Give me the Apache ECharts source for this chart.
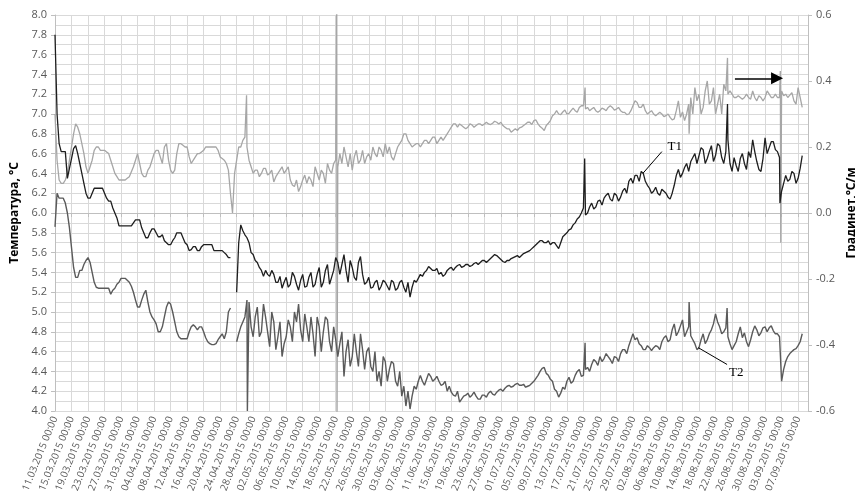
<!DOCTYPE html>
<html>
<head>
<meta charset="utf-8">
<script src="https://cdn.jsdelivr.net/npm/echarts@6/dist/echarts.min.js"></script>
<style>
  html, body { margin: 0; padding: 0; background: #fff; }
  #chart { width: 855px; height: 504px; }
</style>
</head>
<body>
<div id="chart"></div>
<script>
// day 0 = 11.03.2015 00:00; values at 00:00 of each day, mids at 12:00
const startDate = Date.UTC(2015, 2, 11)
const dayStep = 1
const xMax = 182.4

// T1, °C (left axis)
const t1Values = [
  7.8, 6.7, 6.62, 6.35, 6.55, 6.68, 6.5, 6.3, 6.15, 6.2,
  6.25, 6.25, 6.2, 6.12, 6.05, 5.95, 5.87, 5.87, 5.87, 5.9,
  5.93, 5.85, 5.75, 5.8, 5.84, 5.76, 5.78, 5.7, 5.68, 5.75,
  5.8, 5.75, 5.68, 5.63, 5.66, 5.62, 5.68, 5.68, 5.68, 5.62,
  5.62, 5.6, 5.55, null, 5.2, 5.88, 5.78, 5.7, 5.58, 5.5,
  5.42, 5.42, 5.36, 5.38, 5.3, 5.24, 5.35, 5.28, 5.36, 5.22,
  5.38, 5.26, 5.4, 5.28, 5.45, 5.3, 5.48, 5.35, 5.55, 5.38,
  5.58, 5.3, 5.45, 5.32, 5.56, 5.28, 5.35, 5.25, 5.32, 5.26,
  5.3, 5.22, 5.3, 5.24, 5.32, 5.2, 5.15, 5.32, 5.34, 5.36,
  5.42, 5.44, 5.42, 5.38, 5.36, 5.42, 5.45, 5.45, 5.48, 5.46,
  5.48, 5.47, 5.5, 5.5, 5.52, 5.52, 5.56, 5.57, 5.53, 5.5,
  5.52, 5.55, 5.57, 5.57, 5.6, 5.62, 5.66, 5.7, 5.72, 5.7,
  5.68, 5.7, 5.64, 5.76, 5.8, 5.84, 5.9, 5.96, 6.05, 6.0,
  6.1, 6.06, 6.13, 6.15, 6.2, 6.12, 6.18, 6.16, 6.25, 6.32,
  6.3, 6.38, 6.42, 6.32, 6.25, 6.22, 6.2, 6.24, 6.2, 6.14,
  6.28, 6.44, 6.4, 6.5, 6.52, 6.6, 6.58, 6.64, 6.55, 6.68,
  6.58, 6.68, 6.5, 6.74, 6.42, 6.48, 6.55, 6.5, 6.62, 6.74,
  6.52, 6.42, 6.76, 6.66, 6.72, 6.62, 6.22, 6.38, 6.34, 6.4,
  6.35, 6.58
]
const t1Mids = [
  7.0, 6.62, 6.62, 6.45, 6.65, 6.6, 6.4, 6.2, 6.15, 6.25,
  6.25, 6.25, 6.15, 6.12, 6.0, 5.87, 5.87, 5.87, 5.87, 5.93,
  5.93, 5.8, 5.75, 5.84, 5.8, 5.76, 5.72, 5.68, 5.72, 5.8,
  5.8, 5.7, 5.62, 5.66, 5.62, 5.66, 5.68, 5.68, 5.62, 5.62,
  5.62, 5.58, 5.55, null, 5.7, 5.82, 5.75, 5.6, 5.52, 5.45,
  5.36, 5.38, 5.42, 5.3, 5.36, 5.3, 5.25, 5.4, 5.28, 5.32,
  5.25, 5.35, 5.25, 5.38, 5.25, 5.42, 5.28, 5.42, 5.5, 5.48,
  5.42, 5.52, 5.35, 5.5, 5.38, 5.3, 5.24, 5.3, 5.22, 5.32,
  5.26, 5.32, 5.22, 5.3, 5.25, 5.3, 5.25, 5.3, 5.38, 5.4,
  5.46, 5.42, 5.44, 5.4, 5.38, 5.44, 5.42, 5.47, 5.45, 5.48,
  5.46, 5.49, 5.48, 5.52, 5.5, 5.54, 5.58, 5.55, 5.51, 5.52,
  5.54, 5.56, 5.55, 5.59, 5.61, 5.64, 5.68, 5.72, 5.7, 5.72,
  5.7, 5.67, 5.7, 5.78, 5.83, 5.88, 5.94, 6.0, 5.98, 6.06,
  6.04, 6.12, 6.08, 6.18, 6.14, 6.2, 6.12, 6.22, 6.2, 6.35,
  6.38, 6.32, 6.4, 6.28, 6.2, 6.26, 6.18, 6.22, 6.16, 6.2,
  6.38, 6.36, 6.46, 6.42, 6.56, 6.5, 6.66, 6.5, 6.62, 6.52,
  6.7, 6.56, 6.62, 6.5, 6.56, 6.42, 6.6, 6.44, 6.56, 6.62,
  6.44, 6.55, 6.6, 6.72, 6.64, 6.56, 6.3, 6.32, 6.42, 6.3,
  6.45
]
const t1Spikes = [[128.3, 6.55], [162.9, 7.1], [175.6, 6.1]]

// T2, °C (left axis)
const t2Values = [
  5.86, 6.15, 6.15, 6.0, 5.65, 5.35, 5.42, 5.48, 5.55, 5.4,
  5.25, 5.24, 5.24, 5.24, 5.22, 5.28, 5.34, 5.34, 5.3, 5.2,
  5.05, 5.12, 5.22, 5.0, 4.92, 4.8, 4.85, 5.05, 5.08, 4.9,
  4.75, 4.73, 4.73, 4.85, 4.85, 4.85, 4.8, 4.7, 4.67, 4.68,
  4.75, 4.73, 5.0, null, 4.7, 4.85, 4.95, 5.1, 4.75, 5.05,
  4.8, 4.95, 4.65, 4.9, 4.75, 4.55, 4.75, 4.85, 5.0, 5.08,
  4.7, 4.85, 4.95, 4.55, 4.85, 4.8, 4.92, 4.6, 4.72, 4.68,
  4.35, 4.72, 4.55, 4.6, 4.78, 4.42, 4.64, 4.4, 4.3, 4.25,
  4.5, 4.42, 4.48, 4.25, 4.15, 4.05, 4.02, 4.25, 4.3, 4.3,
  4.32, 4.35, 4.32, 4.3, 4.27, 4.2, 4.19, 4.15, 4.09, 4.15,
  4.18, 4.16, 4.15, 4.12, 4.16, 4.18, 4.17, 4.19, 4.22, 4.23,
  4.26, 4.25, 4.28, 4.26, 4.24, 4.26, 4.3, 4.36, 4.43, 4.38,
  4.32, 4.22, 4.14, 4.24, 4.3, 4.28, 4.36, 4.42, 4.36, 4.44,
  4.47, 4.5, 4.55, 4.53, 4.55, 4.48, 4.54, 4.58, 4.62, 4.66,
  4.78, 4.74, 4.66, 4.62, 4.64, 4.64, 4.65, 4.7, 4.76, 4.72,
  4.88, 4.8, 4.92, 4.8, 4.76, 4.68, 4.64, 4.78, 4.72, 4.82,
  4.98, 4.85, 4.8, 4.75, 4.62, 4.7, 4.85, 4.79, 4.65, 4.8,
  4.82, 4.79, 4.85, 4.84, 4.81, 4.78, 4.3, 4.5, 4.58, 4.62,
  4.66, 4.78
]
const t2Mids = [
  6.2, 6.15, 6.1, 5.85, 5.45, 5.35, 5.42, 5.52, 5.5, 5.3,
  5.24, 5.24, 5.24, 5.18, 5.24, 5.3, 5.34, 5.32, 5.26, 5.12,
  5.05, 5.18, 5.1, 4.95, 4.88, 4.8, 4.95, 5.1, 5.0, 4.8,
  4.73, 4.73, 4.8, 4.87, 4.82, 4.85, 4.74, 4.68, 4.67, 4.72,
  4.78, 4.8, 5.04, null, 4.78, 4.9, 5.12, 4.85, 4.95, 4.75,
  5.08, 4.8, 5.0, 4.62, 4.9, 4.68, 4.92, 4.7, 4.9, 4.82,
  4.98, 4.7, 4.78, 4.95, 4.6, 4.95, 4.7, 4.85, 4.55, 4.8,
  4.6, 4.45, 4.78, 4.45, 4.62, 4.6, 4.45, 4.6, 4.4, 4.55,
  4.3, 4.5, 4.3, 4.4, 4.25, 4.2, 4.15, 4.22, 4.36, 4.26,
  4.38, 4.3, 4.35, 4.26, 4.3, 4.25, 4.16, 4.2, 4.12, 4.16,
  4.14, 4.19, 4.12, 4.16, 4.14, 4.2, 4.16, 4.21, 4.2, 4.25,
  4.24, 4.27, 4.26, 4.27, 4.25, 4.28, 4.33, 4.4, 4.44, 4.36,
  4.3, 4.2, 4.18, 4.22, 4.34, 4.3, 4.4, 4.35, 4.42, 4.4,
  4.52, 4.46, 4.5, 4.58, 4.52, 4.55, 4.5, 4.62, 4.58, 4.72,
  4.72, 4.68, 4.62, 4.66, 4.61, 4.66, 4.62, 4.74, 4.7, 4.82,
  4.76, 4.86, 4.75, 4.85, 4.72, 4.62, 4.72, 4.68, 4.78, 4.88,
  4.9, 4.78, 4.84, 4.68, 4.66, 4.78, 4.74, 4.7, 4.72, 4.86,
  4.76, 4.84, 4.8, 4.86, 4.78, 4.75, 4.42, 4.55, 4.6, 4.63,
  4.7
]
const t2Spikes = [[46.6, 4.0], [128.4, 4.69], [153.6, 5.1], [162.8, 5.04]]

// gradient, °C/m (right axis)
const gradValues = [
  0.3, 0.1, 0.09, 0.12, 0.2, 0.27, 0.24, 0.18, 0.12, 0.16,
  0.2, 0.19, 0.19, 0.18, 0.14, 0.11, 0.1, 0.1, 0.11, 0.14,
  0.18, 0.12, 0.11, 0.14, 0.18, 0.19, 0.15, 0.21, 0.13, 0.13,
  0.21, 0.205, 0.2, 0.15, 0.17, 0.18, 0.19, 0.2, 0.2, 0.2,
  0.17, 0.16, 0.13, 0.0, 0.16, 0.2, 0.23, 0.16, 0.12, 0.13,
  0.12, 0.135, 0.12, 0.094, 0.12, 0.14, 0.13, 0.1, 0.08, 0.065,
  0.1, 0.09, 0.1, 0.14, 0.1, 0.12, 0.15, 0.12, 0.16, 0.18,
  0.2, 0.14, 0.13, 0.19, 0.16, 0.15, 0.18, 0.2, 0.17, 0.19,
  0.21, 0.2, 0.16, 0.2, 0.22, 0.24, 0.21, 0.205, 0.21, 0.21,
  0.22, 0.22, 0.23, 0.22, 0.22, 0.24, 0.26, 0.27, 0.27, 0.26,
  0.26, 0.267, 0.265, 0.27, 0.27, 0.27, 0.272, 0.275, 0.275, 0.26,
  0.255, 0.25, 0.25, 0.26, 0.27, 0.275, 0.28, 0.27, 0.257, 0.265,
  0.28, 0.3, 0.3, 0.306, 0.3, 0.31, 0.31, 0.32, 0.325, 0.32,
  0.315, 0.31, 0.31, 0.315, 0.32, 0.32, 0.315, 0.31, 0.305, 0.3,
  0.325, 0.335, 0.32, 0.31, 0.305, 0.3, 0.3, 0.3, 0.295, 0.29,
  0.285, 0.34, 0.306, 0.3, 0.35, 0.38, 0.36, 0.32, 0.4, 0.34,
  0.3, 0.36, 0.39, 0.36, 0.36, 0.35, 0.35, 0.35, 0.35, 0.37,
  0.34, 0.35, 0.35, 0.36, 0.35, 0.35, 0.37, 0.36, 0.357, 0.34,
  0.38, 0.32
]
const gradMids = [
  0.16, 0.09, 0.1, 0.16, 0.24, 0.26, 0.21, 0.14, 0.14, 0.19,
  0.2, 0.19, 0.185, 0.16, 0.12, 0.1, 0.1, 0.105, 0.125, 0.16,
  0.15, 0.11, 0.13, 0.16, 0.19, 0.17, 0.2, 0.16, 0.12, 0.18,
  0.21, 0.2, 0.17, 0.16, 0.18, 0.185, 0.2, 0.2, 0.2, 0.19,
  0.165, 0.15, 0.06, 0.12, 0.2, 0.22, 0.2, 0.14, 0.13, 0.11,
  0.135, 0.115, 0.13, 0.11, 0.13, 0.12, 0.14, 0.085, 0.1, 0.08,
  0.115, 0.11, 0.08, 0.12, 0.13, 0.09, 0.13, 0.15, 0.14, 0.15,
  0.17, 0.18, 0.17, 0.15, 0.19, 0.17, 0.16, 0.18, 0.2, 0.17,
  0.18, 0.17, 0.18, 0.21, 0.24, 0.22, 0.2, 0.21, 0.2, 0.22,
  0.21, 0.23, 0.21, 0.23, 0.23, 0.25, 0.27, 0.26, 0.265, 0.255,
  0.27, 0.26, 0.27, 0.265, 0.275, 0.268, 0.278, 0.27, 0.265, 0.255,
  0.245, 0.255, 0.258, 0.265, 0.275, 0.268, 0.282, 0.262, 0.25, 0.272,
  0.295, 0.31, 0.298, 0.312, 0.302, 0.318, 0.305, 0.325, 0.315, 0.31,
  0.32, 0.305, 0.318, 0.31, 0.325, 0.312, 0.32, 0.305, 0.298, 0.31,
  0.34, 0.32, 0.33, 0.3, 0.31, 0.295, 0.305, 0.292, 0.3, 0.282,
  0.31, 0.29, 0.28, 0.33, 0.3, 0.34, 0.3, 0.37, 0.33, 0.38,
  0.33, 0.3, 0.37, 0.37, 0.35, 0.355, 0.345, 0.36, 0.345, 0.35,
  0.355, 0.34, 0.37, 0.35, 0.36, 0.35, 0.355, 0.35, 0.365, 0.33,
  0.35
]
const gradSpikes = [
  [46.4, 0.357], [68.25, 0.7], [68.3, -0.7], [128.4, 0.38],
  [153.6, 0.24], [162.9, 0.47], [175.7, 0.43], [175.8, -0.09]
]

// annotation anchors (day, value)
const t1Leader = [[142.4, 6.4], [147.0, 6.62]]
const t1LabelAt = [150.1, 6.67]
const t2Leader = [[155.8, 4.64], [162.8, 4.47]]
const t2LabelAt = [165.0, 4.39]
const arrowLine = [[164.7, 0.408], [174.9, 0.408]]

const buildPoints = (values, mids, spikes) => {
  const pts = values.map((v, i) => [i * dayStep, v])
  mids.forEach((v, i) => pts.push([(i + 0.5) * dayStep, v]))
  spikes.forEach((p) => pts.push(p))
  pts.sort((a, b) => a[0] - b[0])
  return pts
}

const pad = (n) => (n < 10 ? '0' + n : '' + n)
const dayLabel = (v) => {
  if (Math.abs(v % 4) > 1e-6 || v > 180.01) return ''
  const d = new Date(startDate + Math.round(v) * 86400000)
  return pad(d.getUTCDate()) + '.' + pad(d.getUTCMonth() + 1) + '.' + d.getUTCFullYear() + ' 00:00'
}

const gridColor = '#d9d9d9'
const axisColor = '#bfbfbf'
const labelColor = '#595959'
const font = 'Open Sans'

const chart = echarts.init(document.getElementById('chart'))

chart.setOption({
  animation: false,
  backgroundColor: '#fff',
  grid: { left: 55, right: 47, top: 15, bottom: 93, outerBoundsMode: 'none' },
  xAxis: {
    type: 'value',
    min: 0,
    max: xMax,
    interval: 4,
    axisLine: { show: true, lineStyle: { color: axisColor } },
    axisTick: { show: true, length: 4, lineStyle: { color: axisColor } },
    splitLine: { show: true, lineStyle: { color: gridColor, width: 1 } },
    axisLabel: {
      rotate: 68,
      margin: 6,
      fontSize: 10,
      fontFamily: font,
      color: labelColor,
      showMaxLabel: false,
      formatter: dayLabel
    }
  },
  yAxis: [
    {
      type: 'value',
      min: 4,
      max: 8,
      interval: 0.2,
      name: 'Температура, °C',
      nameLocation: 'middle',
      nameRotate: 90,
      nameGap: 34,
      nameTextStyle: { fontSize: 12, fontWeight: 'bold', color: '#000', fontFamily: font },
      axisLine: { show: true, lineStyle: { color: axisColor } },
      axisTick: { show: true, length: 4, lineStyle: { color: axisColor } },
      minorTick: { show: false, splitNumber: 2 },
      splitLine: { show: true, lineStyle: { color: gridColor } },
      minorSplitLine: { show: true, lineStyle: { color: gridColor } },
      axisLabel: {
        fontSize: 11,
        fontFamily: font,
        color: labelColor,
        margin: 8,
        formatter: (v) => v.toFixed(1)
      }
    },
    {
      type: 'value',
      min: -0.6,
      max: 0.6,
      interval: 0.2,
      position: 'right',
      name: 'Градинет,°C/м',
      nameLocation: 'middle',
      nameRotate: 90,
      nameGap: 34,
      nameTextStyle: { fontSize: 12, fontWeight: 'bold', color: '#000', fontFamily: font },
      axisLine: { show: true, lineStyle: { color: axisColor } },
      axisTick: { show: true, length: 4, lineStyle: { color: axisColor } },
      splitLine: { show: false },
      axisLabel: {
        fontSize: 11,
        fontFamily: font,
        color: labelColor,
        margin: 8,
        formatter: (v) => (Math.abs(v) < 1e-9 ? '0.0' : v.toFixed(1))
      }
    }
  ],
  series: [
    {
      name: 'Градиент',
      type: 'line',
      yAxisIndex: 1,
      data: buildPoints(gradValues, gradMids, gradSpikes),
      showSymbol: false,
      lineStyle: { color: '#a6a6a6', width: 1.3 },
      markLine: {
        silent: true,
        symbol: ['none', 'triangle'],
        symbolSize: [12, 12],
        label: { show: false },
        lineStyle: { color: '#000', width: 1.6, type: 'solid' },
        data: [[{ coord: arrowLine[0] }, { coord: arrowLine[1] }]]
      }
    },
    {
      name: 'T2',
      type: 'line',
      data: buildPoints(t2Values, t2Mids, t2Spikes),
      showSymbol: false,
      lineStyle: { color: '#5a5a5a', width: 1.4 },
      markLine: {
        silent: true,
        symbol: 'none',
        label: { show: false },
        lineStyle: { color: '#000', width: 1, type: 'solid' },
        data: [[{ coord: t2Leader[0] }, { coord: t2Leader[1] }]]
      },
      markPoint: {
        silent: true,
        symbol: 'circle',
        symbolSize: 0,
        label: {
          show: true,
          position: 'inside',
          formatter: 'T2',
          fontFamily: 'Liberation Serif',
          fontSize: 13,
          color: '#000'
        },
        data: [{ coord: t2LabelAt }]
      }
    },
    {
      name: 'T1',
      type: 'line',
      data: buildPoints(t1Values, t1Mids, t1Spikes),
      showSymbol: false,
      lineStyle: { color: '#1e1e1e', width: 1.3 },
      markLine: {
        silent: true,
        symbol: 'none',
        label: { show: false },
        lineStyle: { color: '#000', width: 1, type: 'solid' },
        data: [[{ coord: t1Leader[0] }, { coord: t1Leader[1] }]]
      },
      markPoint: {
        silent: true,
        symbol: 'circle',
        symbolSize: 0,
        label: {
          show: true,
          position: 'inside',
          formatter: 'T1',
          fontFamily: 'Liberation Serif',
          fontSize: 13,
          color: '#000'
        },
        data: [{ coord: t1LabelAt }]
      }
    }
  ]
})
</script>
</body>
</html>
